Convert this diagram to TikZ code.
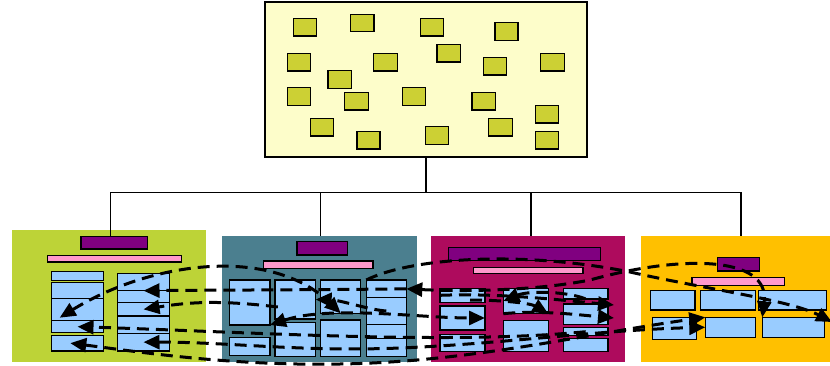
\documentclass[tikz,border=0pt]{standalone}
\usetikzlibrary{arrows.meta}
\definecolor{topfill}{HTML}{FDFDCA}
\definecolor{olivec}{HTML}{CCD034}
\definecolor{greenp}{HTML}{BDD337}
\definecolor{tealp}{HTML}{4B7F8F}
\definecolor{magp}{HTML}{AE0B5D}
\definecolor{orangep}{HTML}{FFC000}
\definecolor{purpc}{HTML}{800080}
\definecolor{pinkc}{HTML}{FF99CC}
\definecolor{lblue}{HTML}{99CCFF}
\newcommand\bx[6]{\node[#6, anchor=north west, minimum width={(#4-#2)*1pt}, minimum height={(#5-#3)*1pt}] (#1) at (#2,#3) {};}
\begin{document}
\begin{tikzpicture}[x=1pt,y=-1pt,
  box/.style={draw=black, line width=1.4pt, inner sep=0pt, outer sep=0pt},
  olive/.style={box, fill=olivec},
  bluebox/.style={box, fill=lblue},
  purpbox/.style={box, fill=purpc},
  pinkbox/.style={box, fill=pinkc},
  topbox/.style={box, fill=topfill},
  panel/.style={draw=none, inner sep=0pt, outer sep=0pt},
  tree/.style={line width=1.2pt, draw=black},
  dsh/.style={line width=3pt, dash pattern=on 12pt off 7pt, black},
  tip/.tip={Triangle[length=16pt,width=14pt]}]
\useasboundingbox (0,0) rectangle (830,366);
% top box
\bx{top}{265}{2}{587}{157}{topbox}
\bx{t1}{293.3}{18.3}{316.7}{36}{olive}
\bx{t2}{350.7}{14.3}{374}{31.7}{olive}
\bx{t3}{420.3}{18.3}{443.3}{36}{olive}
\bx{t4}{495}{22.7}{518}{40.7}{olive}
\bx{t5}{287.7}{53.3}{310.7}{71}{olive}
\bx{t6}{373.7}{53.3}{397.3}{71}{olive}
\bx{t7}{437}{44.3}{460.7}{62}{olive}
\bx{t8}{483.3}{57.3}{506.7}{75}{olive}
\bx{t9}{540.7}{53.3}{564.3}{71}{olive}
\bx{t10}{328}{70.7}{351.3}{88.3}{olive}
\bx{t11}{287.7}{87.7}{310.7}{105.7}{olive}
\bx{t12}{344.7}{92.3}{368.3}{110}{olive}
\bx{t13}{402.7}{87.7}{425.7}{105.7}{olive}
\bx{t14}{472}{92.3}{495.3}{110}{olive}
\bx{t15}{535.3}{105.3}{558.3}{123}{olive}
\bx{t16}{310.7}{118.3}{333.7}{136}{olive}
\bx{t17}{357}{131.3}{380}{149}{olive}
\bx{t18}{425.7}{126.7}{448.7}{144.3}{olive}
\bx{t19}{488.7}{118.3}{512.3}{136}{olive}
\bx{t20}{535.3}{131.3}{558.3}{149}{olive}
% panels
\bx{pg}{12}{230}{206}{362.3}{panel, fill=greenp}
\bx{pt}{222.3}{236.5}{416.7}{362.3}{panel, fill=tealp}
\bx{pm}{431}{236.5}{625}{362.3}{panel, fill=magp}
\bx{po}{641}{236.5}{832}{362.3}{panel, fill=orangep}
% tree
\coordinate (bus) at (426,192.3);
\coordinate (d1) at (110.5,236.7);
\coordinate (d2) at (320.8,236.5);
\coordinate (d3) at (531,236.5);
\coordinate (d4) at (741,236.5);
\draw[tree] (top.south) -- (bus) -| (d1);
\draw[tree] (bus) -| (d2);
\draw[tree] (bus) -| (d3);
\draw[tree] (bus) -| (d4);
% green panel content
\bx{gpu}{81}{236.7}{147.7}{249}{purpbox}
\bx{gpi}{47.7}{255.7}{181.3}{262}{pinkbox}
\bx{gl1}{51.7}{271.7}{103.3}{280.3}{bluebox}
\bx{gl2}{51.7}{282.3}{103.3}{298.3}{bluebox}
\bx{gl3}{51.7}{298.3}{103.3}{320.7}{bluebox}
\bx{gl4}{51.7}{320.7}{103.3}{332.7}{bluebox}
\bx{gl5}{51.7}{335.3}{103.3}{351}{bluebox}
\bx{gr1}{117.7}{273.7}{169.3}{290.7}{bluebox}
\bx{gr2}{117.7}{290.7}{169.3}{302.7}{bluebox}
\bx{gr3}{117.7}{302.7}{169.3}{316}{bluebox}
\bx{gr4}{117.7}{316}{169.3}{333.3}{bluebox}
\bx{gr5}{117.7}{333.3}{169.3}{351}{bluebox}
% teal panel content
\bx{tpu}{297}{241.7}{347.3}{255}{purpbox}
\bx{tpi}{263.7}{261}{373}{268.3}{pinkbox}
\bx{ta1}{229.7}{280}{270}{325}{bluebox}
\bx{ta2}{229.7}{337.3}{270}{355.7}{bluebox}
\bx{tb1}{275}{280}{315.7}{319}{bluebox}
\bx{tb2}{275}{322.3}{315.7}{356.7}{bluebox}
\bx{tc1}{320.7}{280}{360.7}{313.3}{bluebox}
\bx{tc2}{320.7}{320}{360.7}{356.7}{bluebox}
\bx{td1}{366.3}{280}{406.3}{297.7}{bluebox}
\bx{td2}{366.3}{297.7}{406.3}{324.3}{bluebox}
\bx{td3}{366.3}{324.3}{406.3}{338.3}{bluebox}
\bx{td4}{366.3}{338.3}{406.3}{356.7}{bluebox}
% magenta panel content
\bx{mpu}{448.3}{247.7}{600.7}{260.3}{purpbox}
\bx{mpi}{473.7}{267.3}{583}{273.7}{pinkbox}
\bx{ma1}{440}{288.3}{485}{302.3}{bluebox}
\bx{ma2}{440}{306}{485}{330}{bluebox}
\bx{ma3}{440}{334.3}{485}{351.7}{bluebox}
\bx{mb1}{503.3}{288.3}{548.3}{313.7}{bluebox}
\bx{mb2}{503.3}{320.7}{548.3}{351.7}{bluebox}
\bx{mc1}{563.3}{288.3}{608}{299}{bluebox}
\bx{mc2}{563.3}{304}{608}{324.3}{bluebox}
\bx{mc3}{563.3}{327.7}{608}{335.7}{bluebox}
\bx{mc4}{563.3}{338.3}{608}{351.7}{bluebox}
% orange panel content
\bx{opu}{717.3}{257.7}{759.3}{271}{purpbox}
\bx{opi}{692}{277.7}{784.7}{285.3}{pinkbox}
\bx{oa1}{650.3}{290.7}{695}{310}{bluebox}
\bx{ob1}{700.7}{290.7}{755.7}{310}{bluebox}
\bx{oc1}{758.7}{290.7}{826.7}{310}{bluebox}
\bx{oa2}{652.3}{317.3}{696.3}{339.3}{bluebox}
\bx{ob2}{705.3}{317.3}{755.7}{337.3}{bluebox}
\bx{oc2}{762.3}{317.3}{824.7}{337.3}{bluebox}
% dashed connectors
\draw[dsh, tip-tip] (gl3.south west) ++(8,-3) .. controls (150,262) and (270,245) .. (tc1.south);
\draw[dsh, -tip] (td1.east) .. controls (300,290) and (220,290) .. (gr2.north);
\draw[dsh, tip-tip] (td1.east) .. controls (470,292) and (540,290) .. (590,280) .. controls (680,255) and (770,255) .. (oc2.north west);
\draw[dsh, -tip] (td1.north west) .. controls (410,258) and (520,250) .. (630,272) .. controls (700,288) and (790,300) .. (832,322);
\draw[dsh, tip-tip] (gl5.east) ++(-33,0) .. controls (140,352) and (230,366) .. (340,364) .. controls (470,362) and (580,335) .. (ob2.north west);
\draw[dsh, tip-tip] (gr5.center) .. controls (230,342) and (300,352) .. (400,348) .. controls (500,344) and (600,330) .. (ob2.west);
\draw[dsh, -tip] (mc3.center) .. controls (450,345) and (250,332) .. (gl4.center);
\draw[dsh, tip-tip] (ta1.south east) .. controls (330,305) and (420,318) .. (ma2.east);
\draw[dsh, -tip] (ma1.west) .. controls (500,293) and (560,300) .. (614,305);
\draw[dsh, -tip] (mb1.south west) .. controls (540,310) and (580,315) .. (614,318);
\draw[dsh, -tip] (470,300) .. controls (500,300) and (530,303) .. (mb1.south east);
\draw[dsh, -tip] (mc1.south) .. controls (570,292) and (530,290) .. (mb1.west);
\draw[dsh, -tip] (td2.center) .. controls (370,310) and (340,300) .. (tb1.east);
\draw[dsh, -tip] (ta1.south) ++(28,-18) .. controls (220,300) and (190,302) .. (gr3.center);
\end{tikzpicture}
\end{document}
